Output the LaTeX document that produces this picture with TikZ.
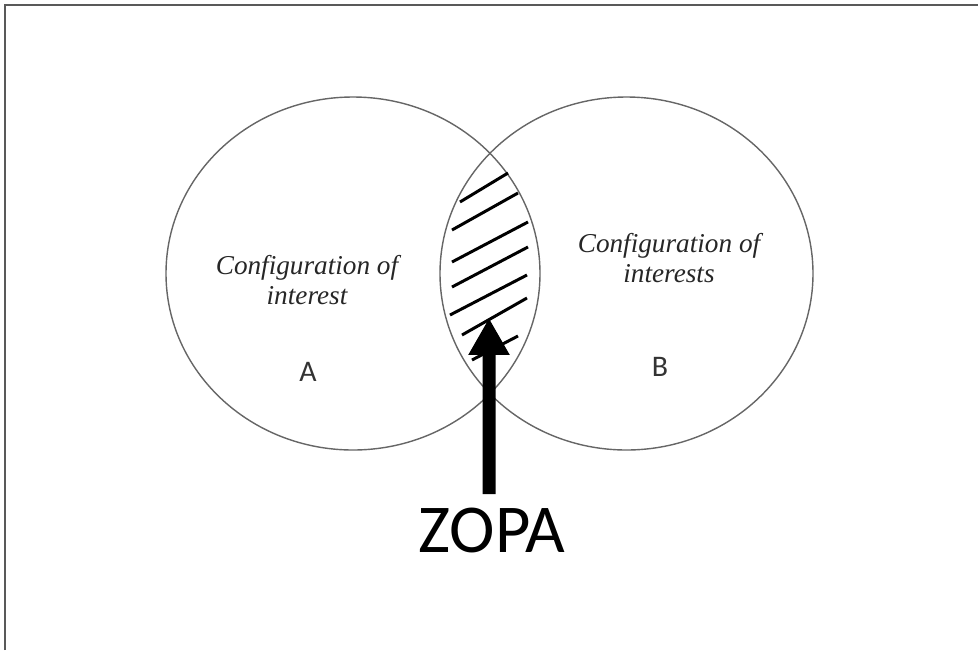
\documentclass[tikz,border=0pt]{standalone}
\usepackage{fontspec}
\setmainfont{Liberation Serif}
\newfontfamily\zopafont{Carlito}
\usepackage{tikz}
\usetikzlibrary{arrows.meta, positioning}
\tikzstyle{venn} = [line width=0.8pt, draw=black!60]
\tikzstyle{hatch} = [line width=1.7pt, black]
\tikzstyle{config} = [font=\fontsize{15.5}{17}\selectfont\itshape, align=center, text=black!85]
\tikzstyle{side} = [font=\zopafont\fontsize{17}{17}\selectfont, text=black!80]
\tikzstyle{zoparrow} = [line width=7.4pt, -{Triangle[length=21pt, width=22pt]}]

\begin{document}
\begin{tikzpicture}[x=0.02cm, y=-0.02cm]
    \useasboundingbox (0,0) rectangle (978,650);
    % frame
    \draw[line width=1.2pt, black!65] (5,650) -- (5,5) -- (978,5);

    % the two sets
    \draw[venn] (353,273.5) ellipse [x radius=187, y radius=176.5];
    \draw[venn] (626.5,273.5) ellipse [x radius=186.5, y radius=176.5];

    % hatched overlap
    \foreach \xa/\ya/\xb/\yb in {460/202/508/173, 452/230/518/193, 452/262/528/222,
                                 452/287/528/247, 450/315/527/275, 462/335/527/298,
                                 472/360/518/336}
        \draw[hatch] (\xa,\ya) -- (\xb,\yb);

    \node[config] (confA) at (307,280) {Configuration of\\interest};
    \node[config] (confB) at (669,258) {Configuration of\\interests};
    \node[side] (labA) at (308,372) {A};
    \node[side] (labB) at (660,367) {B};

    \node[font=\zopafont\fontsize{39}{39}\selectfont, inner sep=0pt, anchor=base] (zopa) at (492,552) {ZOPA};
    \coordinate (tip) at (489,318);
    \draw[zoparrow] ([xshift=-1.7pt, yshift=7.4pt]zopa.north) -- (tip);
\end{tikzpicture}
\end{document}
